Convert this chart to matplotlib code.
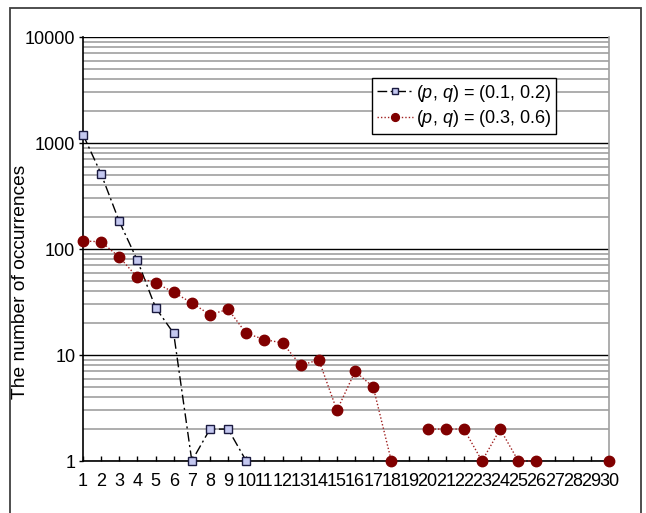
import numpy as np
import matplotlib
matplotlib.use("Agg")
import matplotlib.pyplot as plt
from matplotlib.patches import Rectangle
from matplotlib.ticker import FixedLocator, FixedFormatter, LogLocator, NullFormatter

plt.rcParams['font.family'] = ['Liberation Sans', 'DejaVu Sans']
plt.rcParams['mathtext.fontset'] = 'custom'
plt.rcParams['mathtext.it'] = 'Liberation Sans:italic'
plt.rcParams['mathtext.rm'] = 'Liberation Sans'

# x positions 1..30
lengths = list(range(1, 31))

# (p, q) = (0.1, 0.2); NaN where there is no occurrence
series_a = [1200, 510, 182, 78, 28, 16, 1, 2, 2, 1] + [np.nan] * 20

# (p, q) = (0.3, 0.6)
series_b = [119, 117, 84, 54, 48, 39, 31, 24, 27, 16,
            14, 13, 8, 9, 3, 7, 5, 1, np.nan, 2,
            2, 2, 1, 2, 1, 1, np.nan, np.nan, np.nan, 1]

label_a = r"($\mathit{p}$, $\mathit{q}$) = (0.1, 0.2)"
label_b = r"($\mathit{p}$, $\mathit{q}$) = (0.3, 0.6)"
ylabel = "The number of occurrences"
ytick_vals = [1, 10, 100, 1000, 10000]
ytick_labels = ["1", "10", "100", "1000", "10000"]

W, H = 646, 513
fig = plt.figure(figsize=(W / 100, H / 100), dpi=100)
ax = fig.add_axes([83 / W, 1 - 461 / H, (609 - 83) / W, (461 - 37) / H])

# outer chart frame
fig.patches.append(Rectangle((10 / W, -0.2), (641 - 10) / W, 1.2 - 8 / H,
                             transform=fig.transFigure, fill=False,
                             edgecolor='#404040', linewidth=1.3, zorder=0))

fs = 13

ax.set_yscale('log')
ax.set_ylim(1, 10000)
ax.set_xlim(1, 30)

# grid: gray minor lines, black decade lines
ax.yaxis.set_minor_locator(LogLocator(base=10, subs=np.arange(2, 10)))
ax.yaxis.set_minor_formatter(NullFormatter())
ax.grid(which='minor', axis='y', color='#a0a0a0', linewidth=1.2)
ax.grid(which='major', axis='y', color='black', linewidth=1.0)
ax.grid(which='major', axis='x', visible=False)
ax.set_axisbelow(True)

ax.plot(lengths, series_a, color='black', linewidth=1.0,
        linestyle=(0, (7, 2.5, 1.5, 2.5)), marker='s', markersize=6,
        markerfacecolor='#c4c8f0', markeredgecolor='#1a1a40',
        markeredgewidth=1.0, label=label_a, clip_on=False, zorder=3)
ax.plot(lengths, series_b, color='#a02020', linewidth=1.0,
        linestyle=(0, (1, 1.5)), marker='o', markersize=7.5,
        markerfacecolor='#800000', markeredgecolor='#800000',
        label=label_b, clip_on=False, zorder=4)

ax.yaxis.set_major_locator(FixedLocator(ytick_vals))
ax.yaxis.set_major_formatter(FixedFormatter(ytick_labels))
ax.set_xticks(lengths)
ax.set_xticklabels([str(v) for v in lengths])

ax.tick_params(axis='x', which='major', direction='in', length=3.5,
               width=1, labelsize=fs, pad=8.5)
ax.tick_params(axis='y', which='major', direction='out', length=3,
               width=1, labelsize=fs, pad=2.5)
ax.tick_params(axis='y', which='minor', length=0)

for side in ('left', 'bottom'):
    ax.spines[side].set_color('black')
    ax.spines[side].set_linewidth(1.2)
ax.spines['top'].set_visible(False)
ax.spines['right'].set_color('#a0a0a0')
ax.spines['right'].set_linewidth(1.2)

ax.set_ylabel(ylabel, fontsize=13.8)
ax.yaxis.set_label_coords((28.5 - 83) / (609 - 83), 1 - (281.5 - 37) / (461 - 37))

leg = ax.legend(loc='upper left', bbox_to_anchor=((372 - 83) / (609 - 83), 1 - (78 - 37) / (461 - 37)),
                fontsize=fs, frameon=True, fancybox=False, borderpad=0.25,
                labelspacing=0.25, handlelength=2.0, handletextpad=0.2,
                borderaxespad=0, framealpha=1, markerscale=0.75)
leg.get_frame().set_edgecolor('black')
leg.get_frame().set_linewidth(1.0)

fig.savefig('out.png', dpi=100)
